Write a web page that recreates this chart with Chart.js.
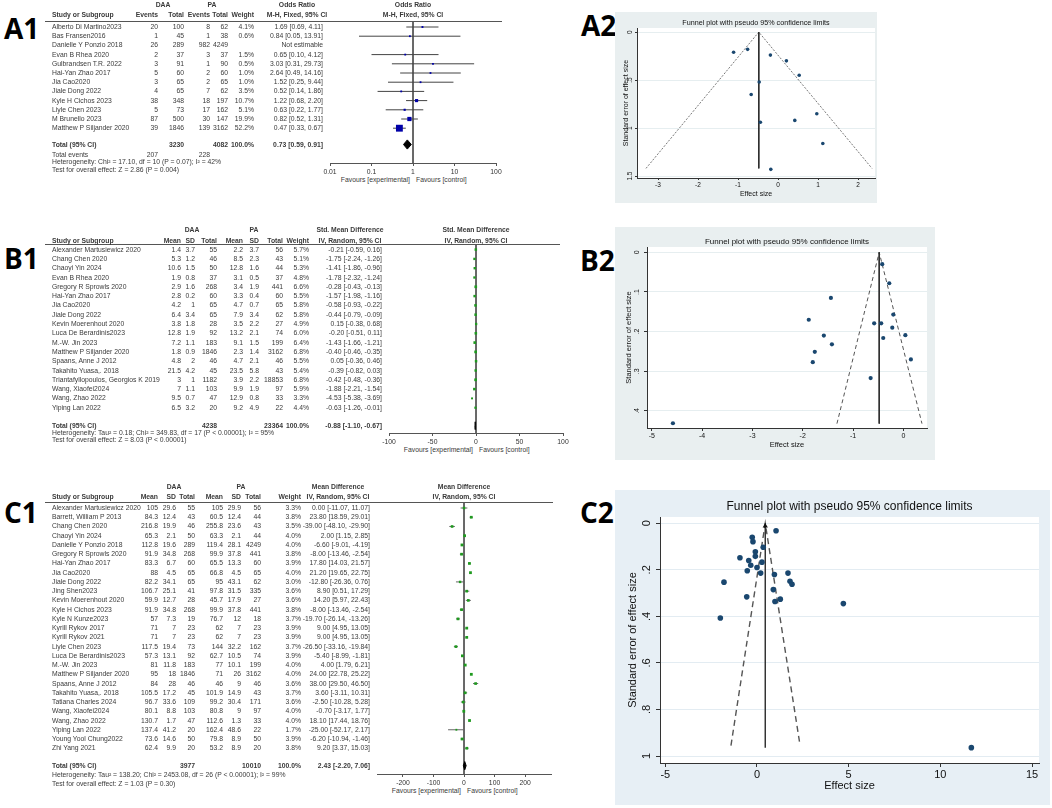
<!DOCTYPE html>
<html><head><meta charset="utf-8"><title>Forest and funnel plots</title>
<script src="https://cdn.jsdelivr.net/npm/chart.js@4.4.1/dist/chart.umd.min.js"></script>
<style>
html,body{margin:0;padding:0;background:#fff;}
#root{position:relative;width:1052px;height:808px;overflow:hidden;font-family:"Liberation Sans",Arial,Helvetica,sans-serif;}
.t{position:absolute;white-space:nowrap;font-size:6.8px;color:#3a3a3a;line-height:1;}
.b{font-weight:bold;}
.lab{font-family:"Open Sans","Liberation Sans",sans-serif;font-weight:700;font-size:28px;color:#000;}
.rule{position:absolute;height:1px;background:#555;}
canvas{position:absolute;}
</style></head>
<body><div id="root"></div>
<script>
/* ================= DATA ================= */
/* ---- A1: Odds ratio, M-H fixed ---- */
const studiesA1 = ["Alberto Di Martino2023","Bas Fransen2016","Danielle Y Ponzio 2018","Evan B Rhea 2020","Gulbrandsen T.R. 2022","Hai-Yan Zhao 2017","Jia Cao2020","Jiale Dong 2022","Kyle H Cichos 2023","Liyle Chen 2023","M Brunello 2023","Matthew P Siljander 2020"];
const daaEventsA1 = [20,1,26,2,3,5,3,4,38,5,87,39];
const daaTotalA1  = [100,45,289,37,91,60,65,65,348,73,500,1846];
const paEventsA1  = [8,1,982,3,1,2,2,7,18,17,30,139];
const paTotalA1   = [62,38,4249,37,90,60,65,62,197,162,147,3162];
const weightA1    = [4.1,0.6,null,1.5,0.5,1.0,1.0,3.5,10.7,5.1,19.9,52.2];
const orA1   = [1.69,0.84,null,0.65,3.03,2.64,1.52,0.52,1.22,0.63,0.82,0.47];
const orLoA1 = [0.69,0.05,null,0.10,0.31,0.49,0.25,0.14,0.68,0.22,0.52,0.33];
const orHiA1 = [4.11,13.91,null,4.12,29.73,14.16,9.44,1.86,2.20,1.77,1.31,0.67];
const totalsA1 = [3230,4082];          // DAA total, PA total
const totalEventsA1 = [207,228];
const pooledA1 = [0.73,0.59,0.91];     // estimate, lower, upper
const ticksA1 = [0.01,0.1,1,10,100];
const tickLabelsA1 = ["0.01","0.1","1","10","100"];
const hetA1 = "Heterogeneity: Chi² = 17.10, df = 10 (P = 0.07); I² = 42%";
const testA1 = "Test for overall effect: Z = 2.86 (P = 0.004)";

/* ---- B1: Std. mean difference, IV random ---- */
const studiesB1 = ["Alexander Martusiewicz 2020","Chang Chen 2020","Chaoyi Yin 2024","Evan B Rhea 2020","Gregory R Sprowls 2020","Hai-Yan Zhao 2017","Jia Cao2020","Jiale Dong 2022","Kevin Moerenhout 2020","Luca De Berardinis2023","M.-W. Jin 2023","Matthew P Siljander 2020","Spaans, Anne J 2012","Takahito Yuasa,. 2018","Triantafyllopoulos, Georgios K 2019","Wang, Xiaofei2024","Wang, Zhao 2022","Yiping Lan 2022"];
const daaMeanB1 = [1.4,5.3,10.6,1.9,2.9,2.8,4.2,6.4,3.8,12.8,7.2,1.8,4.8,21.5,3,7,9.5,6.5];
const daaSdB1   = [3.7,1.2,1.5,0.8,1.6,0.2,1,3.4,1.8,1.9,1.1,0.9,2,4.2,1,1.1,0.7,3.2];
const daaNB1    = [55,46,50,37,268,60,65,65,28,92,183,1846,46,45,1182,103,47,20];
const paMeanB1  = [2.2,8.5,12.8,3.1,3.4,3.3,4.7,7.9,3.5,13.2,9.1,2.3,4.7,23.5,3.9,9.9,12.9,9.2];
const paSdB1    = [3.7,2.3,1.6,0.5,1.9,0.4,0.7,3.4,2.2,2.1,1.5,1.4,2.1,5.8,2.2,1.9,0.8,4.9];
const paNB1     = [56,43,44,37,441,60,65,62,27,74,199,3162,46,43,18853,97,33,22];
const weightB1  = [5.7,5.1,5.3,4.8,6.6,5.5,5.8,5.8,4.9,6.0,6.4,6.8,5.5,5.4,6.8,5.9,3.3,4.4];
const smdB1   = [-0.21,-1.75,-1.41,-1.78,-0.28,-1.57,-0.58,-0.44,0.15,-0.20,-1.43,-0.40,0.05,-0.39,-0.42,-1.88,-4.53,-0.63];
const smdLoB1 = [-0.59,-2.24,-1.86,-2.32,-0.43,-1.98,-0.93,-0.79,-0.38,-0.51,-1.66,-0.46,-0.36,-0.82,-0.48,-2.21,-5.38,-1.26];
const smdHiB1 = [0.16,-1.26,-0.96,-1.24,-0.13,-1.16,-0.22,-0.09,0.68,0.11,-1.21,-0.35,0.46,0.03,-0.36,-1.54,-3.69,-0.01];
const totalsB1 = [4238,23364];
const pooledB1 = [-0.88,-1.10,-0.67];
const ticksB1 = [-100,-50,0,50,100];
const tickLabelsB1 = ["-100","-50","0","50","100"];
const hetB1 = "Heterogeneity: Tau² = 0.18; Chi² = 349.83, df = 17 (P < 0.00001); I² = 95%";
const testB1 = "Test for overall effect: Z = 8.03 (P < 0.00001)";

/* ---- C1: Mean difference, IV random ---- */
const studiesC1 = ["Alexander Martusiewicz 2020","Barrett, William P 2013","Chang Chen 2020","Chaoyi Yin 2024","Danielle Y Ponzio 2018","Gregory R Sprowls 2020","Hai-Yan Zhao 2017","Jia Cao2020","Jiale Dong 2022","Jing Shen2023","Kevin Moerenhout 2020","Kyle H Cichos 2023","Kyle N Kunze2023","Kyrill Rykov 2017","Kyrill Rykov 2021","Liyle Chen 2023","Luca De Berardinis2023","M.-W. Jin 2023","Matthew P Siljander 2020","Spaans, Anne J 2012","Takahito Yuasa,. 2018","Tatiana Charles 2024","Wang, Xiaofei2024","Wang, Zhao 2022","Yiping Lan 2022","Young Yool Chung2022","Zhi Yang 2021"];
const daaMeanC1 = [105,84.3,216.8,65.3,112.8,91.9,83.3,88,82.2,106.7,59.9,91.9,57,71,71,117.5,57.3,81,95,84,105.5,96.7,80.1,130.7,137.4,73.6,62.4];
const daaSdC1   = [29.6,12.4,19.9,2.1,19.6,34.8,6.7,4.5,34.1,25.1,12.7,34.8,7.3,7,7,19.4,13.1,11.8,18,28,17.2,33.6,8.8,1.7,41.2,14.6,9.9];
const daaNC1    = [55,43,46,50,289,268,60,65,65,41,28,268,19,23,23,73,92,183,1846,46,45,109,103,47,20,50,20];
const paMeanC1  = [105,60.5,255.8,63.3,119.4,99.9,65.5,66.8,95,97.8,45.7,99.9,76.7,62,62,144,62.7,77,71,46,101.9,99.2,80.8,112.6,162.4,79.8,53.2];
const paSdC1    = [29.9,12.4,23.6,2.1,28.1,37.8,13.3,4.5,43.1,31.5,17.9,37.8,12,7,7,32.2,10.5,10.1,26,9,14.9,30.4,9,1.3,48.6,8.9,8.9];
const paNC1     = [56,44,43,44,4249,441,60,65,62,335,27,441,18,23,23,162,74,199,3162,46,43,171,97,33,22,50,20];
const weightC1  = [3.3,3.8,3.5,4.0,4.0,3.8,3.9,4.0,3.0,3.6,3.6,3.8,3.7,3.9,3.9,3.7,3.9,4.0,4.0,3.6,3.7,3.6,4.0,4.0,1.7,3.9,3.8];
const mdC1   = [0.00,23.80,-39.00,2.00,-6.60,-8.00,17.80,21.20,-12.80,8.90,14.20,-8.00,-19.70,9.00,9.00,-26.50,-5.40,4.00,24.00,38.00,3.60,-2.50,-0.70,18.10,-25.00,-6.20,9.20];
const mdLoC1 = [-11.07,18.59,-48.10,1.15,-9.01,-13.46,14.03,19.65,-26.36,0.51,5.97,-13.46,-26.14,4.95,4.95,-33.16,-8.99,1.79,22.78,29.50,-3.11,-10.28,-3.17,17.44,-52.17,-10.94,3.37];
const mdHiC1 = [11.07,29.01,-29.90,2.85,-4.19,-2.54,21.57,22.75,0.76,17.29,22.43,-2.54,-13.26,13.05,13.05,-19.84,-1.81,6.21,25.22,46.50,10.31,5.28,1.77,18.76,2.17,-1.46,15.03];
const totalsC1 = [3977,10010];
const pooledC1 = [2.43,-2.20,7.06];
const ticksC1 = [-200,-100,0,100,200];
const tickLabelsC1 = ["-200","-100","0","100","200"];
const hetC1 = "Heterogeneity: Tau² = 138.20; Chi² = 2453.08, df = 26 (P < 0.00001); I² = 99%";
const testC1 = "Test for overall effect: Z = 1.03 (P = 0.30)";

/* ---- Funnel plots: effect size vs standard error ---- */
const effectA2 = [-1.11,-0.76,-0.19,0.21,0.53,-0.47,-0.67,0.97,0.42,-0.44,1.12,-0.18];
const seA2     = [0.21,0.18,0.24,0.30,0.45,0.52,0.65,0.85,0.92,0.94,1.16,1.43];
const funnelA2 = {center:-0.48, seMax:1.42, lo:-3.30, hi:2.35, lineEnd:1.42};
const xTicksA2 = [-3,-2,-1,0,1,2];
const yTicksA2 = [0,0.5,1,1.5];

const effectB2 = [-0.42,-0.28,-1.44,-0.20,-1.88,-0.58,-0.44,-0.22,-1.58,0.04,-0.40,-1.42,-1.76,0.15,-1.80,-0.65,-4.58];
const seB2     = [0.030,0.078,0.115,0.157,0.170,0.179,0.179,0.190,0.210,0.209,0.216,0.232,0.251,0.270,0.277,0.317,0.431];
const funnelB2 = {center:-0.48, seMax:0.432, lo:-1.32, hi:0.37, lineEnd:0.432};
const xTicksB2 = [-5,-4,-3,-2,-1,0];
const yTicksB2 = [0,0.1,0.2,0.3,0.4];

const effectC2 = [1.04,-0.26,-0.22,0.34,-0.09,-0.09,-0.93,-0.45,0.27,-0.34,0.00,-0.53,0.20,1.69,0.95,-1.80,1.80,1.91,0.89,-0.56,1.27,0.98,4.71,-2.00,11.69];
const seC2     = [0.032,0.060,0.079,0.103,0.122,0.142,0.148,0.160,0.167,0.180,0.190,0.204,0.214,0.214,0.220,0.253,0.249,0.262,0.285,0.316,0.326,0.336,0.345,0.407,0.964];
const funnelC2 = {center:0.45, seMax:0.955, lo:-1.42, hi:2.35, lineEnd:0.965};
const xTicksC2 = [-5,0,5,10,15];
const yTicksC2 = [0,0.2,0.4,0.6,0.8,1];

/* ================= LAYOUT ================= */
const LA1 = {ruleY:21, ruleX1:502, row0:27, step:9.2, totalY:144.5, evY:155, hetY:162.3, testY:169.5, h1:4.5, h2:15,
  cols:[158,184,210,228], w:254, ci:323, ciC:297, daaC:163, paC:212, ax0:330, ax1:496, axisY:163, favY:180};
const LB1 = {ruleY:244, ruleX1:560, row0:249.6, step:9.3, totalY:425.7, hetY:433, testY:440, h1:230, h2:240.7,
  cols:[181,195,217,243,259,283], w:309, ci:382, ciC:350, daaC:192, paC:254, ax0:389, ax1:563, axisY:433, favY:450};
const LC1 = {ruleY:502, ruleX1:553, row0:508, step:9.24, totalY:765.7, hetY:774.7, testY:784, h1:487.3, h2:497.3,
  cols:[158,176,195,223,241,261], w:301, ci:370, ciC:338, daaC:174, paC:241, ax0:377, ax1:551, axisY:774, favY:791};

/* ================= HELPERS ================= */
const root = document.getElementById('root');
Chart.defaults.font.family = '"Liberation Sans", Arial, Helvetica, sans-serif';
Chart.defaults.color = '#333';

function T(x, y, s, al, bold, cls) {
  const d = document.createElement('div');
  d.className = 't' + (bold ? ' b' : '') + (cls ? ' ' + cls : '');
  d.textContent = s;
  d.style.left = x + 'px';
  d.style.top = y + 'px';
  d.style.transform = 'translate(' + (al === 'r' ? '-100%' : al === 'c' ? '-50%' : '0') + ',-50%)';
  root.appendChild(d);
  return d;
}
function rule(x0, x1, y) {
  const d = document.createElement('div');
  d.className = 'rule';
  d.style.left = x0 + 'px'; d.style.top = (y - 0.5) + 'px'; d.style.width = (x1 - x0) + 'px';
  root.appendChild(d);
}
const pct = w => w == null ? '' : w.toFixed(1) + '%';
const ciTxt = (e, l, h) => e == null ? 'Not estimable' : e.toFixed(2) + ' [' + l.toFixed(2) + ', ' + h.toFixed(2) + ']';

function forestChart(o) {
  const L = o.L, pad = 20, axH = 12;
  const yMin = (L.ruleY - L.row0) / L.step, yMax = (L.axisY - L.row0) / L.step;
  const yTot = (L.totalY - L.row0) / L.step;
  const cv = document.createElement('canvas');
  cv.width = L.ax1 - L.ax0 + 2 * pad;
  cv.height = L.axisY - L.ruleY + axH;
  cv.style.left = (L.ax0 - pad) + 'px';
  cv.style.top = L.ruleY + 'px';
  root.appendChild(cv);
  const sq = [], rad = [], ds = [];
  o.est.forEach((e, i) => {
    if (e == null) return;
    sq.push({x: e, y: i});
    rad.push(Math.max(o.minSide, o.k * Math.sqrt(o.wt[i])) / Math.SQRT2);
  });
  ds.push({data: sq, pointStyle: 'rect', pointRadius: rad, backgroundColor: o.sqColor, borderWidth: 0});
  const t = o.tot;
  ds.push({data: [{x: t[1], y: yTot}, {x: t[0], y: yTot - o.dh}, {x: t[2], y: yTot}, {x: t[0], y: yTot + o.dh}, {x: t[1], y: yTot}],
    showLine: true, fill: 'shape', backgroundColor: '#000', borderColor: '#000', borderWidth: 1, pointRadius: 0});
  o.est.forEach((e, i) => {
    if (e == null) return;
    ds.push({data: [{x: o.lo[i], y: i}, {x: o.hi[i], y: i}], showLine: true, borderColor: o.ciColor, borderWidth: 1, pointRadius: 0});
  });
  ds.push({data: [{x: o.nullV, y: yMin}, {x: o.nullV, y: yMax}], showLine: true, borderColor: '#555', borderWidth: 1, pointRadius: 0});
  const chart = new Chart(cv, {
    type: 'scatter',
    data: {datasets: ds},
    options: {
      responsive: false, animation: false, events: [],
      layout: {padding: {left: pad, right: pad, top: 0, bottom: 0}, autoPadding: false},
      plugins: {legend: {display: false}, tooltip: {enabled: false}},
      scales: {
        x: {type: o.xType, min: o.xMin, max: o.xMax,
          afterBuildTicks: s => { s.ticks = o.ticks.map(v => ({value: v})); },
          afterFit: s => { s.height = axH; },
          ticks: {font: {size: 6.8}, color: '#333', padding: 2, maxRotation: 0, minRotation: 0, autoSkip: false,
                  callback: (v, i) => o.tickLabels[i]},
          grid: {drawOnChartArea: false, drawTicks: true, tickLength: 3, color: '#555'},
          border: {display: true, color: '#555', width: 1}},
        y: {type: 'linear', display: false, reverse: true, min: yMin, max: yMax}
      }
    }
  });
  const nullPx = chart.scales.x.getPixelForValue(o.nullV) + (L.ax0 - pad);
  T(nullPx - 3, L.favY, 'Favours [experimental]', 'r');
  T(nullPx + 3, L.favY, 'Favours [control]', 'l');
  return nullPx;
}

const bgPlugin = {
  id: 'panelBg',
  beforeDraw(c, args, opts) {
    const {ctx, chartArea: a} = c;
    ctx.save();
    ctx.fillStyle = opts.outer; ctx.fillRect(0, 0, c.width, c.height);
    ctx.fillStyle = opts.inner; ctx.fillRect(a.left, a.top, a.right - a.left, a.bottom - a.top);
    ctx.restore();
  }
};
const fmt = v => {
  if (v === 0) return '0';
  const a = Math.abs(v);
  let s = String(a);
  if (a < 1) s = s.replace(/^0/, '');
  return (v < 0 ? '-' : '') + s;
};

function funnelChart(o) {
  const L = o.L;
  const cv = document.createElement('canvas');
  cv.width = L.w; cv.height = L.h;
  cv.style.left = L.left + 'px'; cv.style.top = L.top + 'px';
  root.appendChild(cv);
  const f = o.f;
  const ds = [
    {data: o.es.map((x, i) => ({x: x, y: o.se[i]})), pointStyle: 'circle', pointRadius: L.r, backgroundColor: '#1a476f', borderWidth: 0}
  ];
  if (L.arrow) ds.push({data: [{x: f.center, y: L.arrowY}], pointStyle: 'triangle', pointRadius: L.arrow, backgroundColor: '#111', borderWidth: 0});
  ds.push({data: [{x: f.center, y: 0}, {x: f.center, y: f.lineEnd}], showLine: true, borderColor: '#2a2a2a', borderWidth: L.vw, pointRadius: 0});
  ds.push({data: [{x: f.lo, y: f.seMax}, {x: f.center, y: 0}, {x: f.hi, y: f.seMax}], showLine: true, borderColor: '#555', borderWidth: L.fw, borderDash: L.dash, pointRadius: 0});
  new Chart(cv, {
    type: 'scatter',
    data: {datasets: ds},
    plugins: [bgPlugin],
    options: {
      responsive: false, animation: false, events: [],
      layout: {padding: {left: 0, right: L.padR, top: 0, bottom: 0}, autoPadding: false},
      plugins: {
        legend: {display: false}, tooltip: {enabled: false},
        title: {display: true, fullSize: false, text: 'Funnel plot with pseudo 95% confidence limits', color: '#111',
                font: {size: L.ts, weight: 'normal'}, padding: {top: L.tpt, bottom: L.tpb}},
        panelBg: {outer: L.bg, inner: '#ffffff'}
      },
      scales: {
        x: {type: 'linear', min: o.xMin, max: o.xMax,
          afterBuildTicks: s => { s.ticks = o.xt.map(v => ({value: v})); },
          afterFit: s => { s.height = L.xH; },
          ticks: {font: {size: L.fs}, color: '#111', padding: L.xtp, maxRotation: 0, minRotation: 0, autoSkip: false, callback: v => fmt(v)},
          grid: {drawOnChartArea: false, tickLength: L.tl, color: '#333'},
          border: {color: '#333', width: 1},
          title: {display: true, text: 'Effect size', color: '#111', font: {size: L.as}, padding: {top: 0, bottom: L.xttp}}},
        y: {type: 'linear', reverse: true, min: o.yMin, max: o.yMax,
          afterBuildTicks: s => { s.ticks = o.yt.map(v => ({value: v})); },
          afterFit: s => { s.width = L.yW; },
          ticks: {font: {size: L.fs}, color: '#111', padding: L.ytp, minRotation: 90, maxRotation: 90, crossAlign: 'center', autoSkip: false, callback: v => fmt(v)},
          grid: {drawOnChartArea: true, color: L.gridC, tickColor: '#333', tickLength: L.tl},
          border: {color: '#333', width: 1},
          title: {display: true, text: 'Standard error of effect size', color: '#111', font: {size: L.as}, padding: {top: L.yttp, bottom: 0}}}
      }
    }
  });
}

/* ================= PANEL LABELS ================= */
T(4, 28, 'A1', 'l', false, 'lab');
T(4, 258, 'B1', 'l', false, 'lab');
T(4, 512, 'C1', 'l', false, 'lab');
T(581, 25, 'A2', 'l', false, 'lab');
T(580, 260, 'B2', 'l', false, 'lab');
T(580, 512, 'C2', 'l', false, 'lab');

/* ================= A1 ================= */
(function () {
  const L = LA1, c = L.cols;
  const nullX = forestChart({L: L, xType: 'logarithmic', xMin: 0.01, xMax: 100, ticks: ticksA1, tickLabels: tickLabelsA1,
    est: orA1, lo: orLoA1, hi: orHiA1, wt: weightA1, tot: pooledA1, nullV: 1, sqColor: '#0000a8', ciColor: '#444',
    k: 0.95, minSide: 1.8, dh: 0.5});
  rule(45, L.ruleX1, L.ruleY);
  T(L.daaC, L.h1, 'DAA', 'c', true); T(L.paC, L.h1, 'PA', 'c', true);
  T(L.ciC, L.h1, 'Odds Ratio', 'c', true); T(nullX, L.h1, 'Odds Ratio', 'c', true);
  T(52, L.h2, 'Study or Subgroup', 'l', true);
  ['Events', 'Total', 'Events', 'Total'].forEach((h, j) => T(c[j], L.h2, h, 'r', true));
  T(L.w, L.h2, 'Weight', 'r', true);
  T(L.ciC, L.h2, 'M-H, Fixed, 95% CI', 'c', true); T(nullX, L.h2, 'M-H, Fixed, 95% CI', 'c', true);
  studiesA1.forEach((s, i) => {
    const y = L.row0 + i * L.step;
    T(52, y, s, 'l');
    T(c[0], y, String(daaEventsA1[i]), 'r'); T(c[1], y, String(daaTotalA1[i]), 'r');
    T(c[2], y, String(paEventsA1[i]), 'r'); T(c[3], y, String(paTotalA1[i]), 'r');
    T(L.w, y, pct(weightA1[i]), 'r');
    T(L.ci, y, ciTxt(orA1[i], orLoA1[i], orHiA1[i]), 'r');
  });
  T(52, L.totalY, 'Total (95% CI)', 'l', true);
  T(c[1], L.totalY, String(totalsA1[0]), 'r', true); T(c[3], L.totalY, String(totalsA1[1]), 'r', true);
  T(L.w, L.totalY, '100.0%', 'r', true);
  T(L.ci, L.totalY, ciTxt(pooledA1[0], pooledA1[1], pooledA1[2]), 'r', true);
  T(52, L.evY, 'Total events', 'l');
  T(c[0], L.evY, String(totalEventsA1[0]), 'r'); T(c[2], L.evY, String(totalEventsA1[1]), 'r');
  T(52, L.hetY, hetA1, 'l'); T(52, L.testY, testA1, 'l');
})();

/* ================= B1 ================= */
(function () {
  const L = LB1, c = L.cols;
  const nullX = forestChart({L: L, xType: 'linear', xMin: -100, xMax: 100, ticks: ticksB1, tickLabels: tickLabelsB1,
    est: smdB1, lo: smdLoB1, hi: smdHiB1, wt: weightB1, tot: pooledB1, nullV: 0, sqColor: '#1f9a1f', ciColor: '#666',
    k: 1.05, minSide: 1.5, dh: 0.42});
  rule(45, L.ruleX1, L.ruleY);
  T(L.daaC, L.h1, 'DAA', 'c', true); T(L.paC, L.h1, 'PA', 'c', true);
  T(L.ciC, L.h1, 'Std. Mean Difference', 'c', true); T(nullX, L.h1, 'Std. Mean Difference', 'c', true);
  T(52, L.h2, 'Study or Subgroup', 'l', true);
  ['Mean', 'SD', 'Total', 'Mean', 'SD', 'Total'].forEach((h, j) => T(c[j], L.h2, h, 'r', true));
  T(L.w, L.h2, 'Weight', 'r', true);
  T(L.ciC, L.h2, 'IV, Random, 95% CI', 'c', true); T(nullX, L.h2, 'IV, Random, 95% CI', 'c', true);
  studiesB1.forEach((s, i) => {
    const y = L.row0 + i * L.step;
    T(52, y, s, 'l');
    [daaMeanB1, daaSdB1, daaNB1, paMeanB1, paSdB1, paNB1].forEach((arr, j) => T(c[j], y, String(arr[i]), 'r'));
    T(L.w, y, pct(weightB1[i]), 'r');
    T(L.ci, y, ciTxt(smdB1[i], smdLoB1[i], smdHiB1[i]), 'r');
  });
  T(52, L.totalY, 'Total (95% CI)', 'l', true);
  T(c[2], L.totalY, String(totalsB1[0]), 'r', true); T(c[5], L.totalY, String(totalsB1[1]), 'r', true);
  T(L.w, L.totalY, '100.0%', 'r', true);
  T(L.ci, L.totalY, ciTxt(pooledB1[0], pooledB1[1], pooledB1[2]), 'r', true);
  T(52, L.hetY, hetB1, 'l'); T(52, L.testY, testB1, 'l');
})();

/* ================= C1 ================= */
(function () {
  const L = LC1, c = L.cols;
  const nullX = forestChart({L: L, xType: 'linear', xMin: -285, xMax: 285, ticks: ticksC1, tickLabels: tickLabelsC1,
    est: mdC1, lo: mdLoC1, hi: mdHiC1, wt: weightC1, tot: pooledC1, nullV: 0, sqColor: '#1f9a1f', ciColor: '#666',
    k: 1.4, minSide: 1.5, dh: 0.45});
  rule(45, L.ruleX1, L.ruleY);
  T(L.daaC, L.h1, 'DAA', 'c', true); T(L.paC, L.h1, 'PA', 'c', true);
  T(L.ciC, L.h1, 'Mean Difference', 'c', true); T(nullX, L.h1, 'Mean Difference', 'c', true);
  T(52, L.h2, 'Study or Subgroup', 'l', true);
  ['Mean', 'SD', 'Total', 'Mean', 'SD', 'Total'].forEach((h, j) => T(c[j], L.h2, h, 'r', true));
  T(L.w, L.h2, 'Weight', 'r', true);
  T(L.ciC, L.h2, 'IV, Random, 95% CI', 'c', true); T(nullX, L.h2, 'IV, Random, 95% CI', 'c', true);
  studiesC1.forEach((s, i) => {
    const y = L.row0 + i * L.step;
    T(52, y, s, 'l');
    [daaMeanC1, daaSdC1, daaNC1, paMeanC1, paSdC1, paNC1].forEach((arr, j) => T(c[j], y, String(arr[i]), 'r'));
    T(L.w, y, pct(weightC1[i]), 'r');
    T(L.ci, y, ciTxt(mdC1[i], mdLoC1[i], mdHiC1[i]), 'r');
  });
  T(52, L.totalY, 'Total (95% CI)', 'l', true);
  T(c[2], L.totalY, String(totalsC1[0]), 'r', true); T(c[5], L.totalY, String(totalsC1[1]), 'r', true);
  T(L.w, L.totalY, '100.0%', 'r', true);
  T(L.ci, L.totalY, ciTxt(pooledC1[0], pooledC1[1], pooledC1[2]), 'r', true);
  T(52, L.hetY, hetC1, 'l'); T(52, L.testY, testC1, 'l');
})();

/* ================= FUNNELS ================= */
funnelChart({
  L: {left: 615, top: 12, w: 262, h: 191, padR: 2, yW: 22, xH: 25, ts: 7.2, tpt: 7, tpb: 0.4, fs: 6.5, tl: 2, xtp: 1.1,
      as: 7, xttp: 4.8, yttp: 6.8, ytp: 0, r: 1.8, vw: 1, fw: 0.8, dash: [2, 1.5], bg: '#e9eff0', gridC: '#e6eef0'},
  es: effectA2, se: seA2, f: funnelA2, xMin: -3.525, xMax: 2.425, yMin: -0.042, yMax: 1.52, xt: xTicksA2, yt: yTicksA2
});
funnelChart({
  L: {left: 615, top: 227, w: 320, h: 233, padR: 8, yW: 32, xH: 32, ts: 8, tpt: 10.2, tpb: 0.2, fs: 7, tl: 3, xtp: 0.8,
      as: 7.5, xttp: 10.5, yttp: 9.8, ytp: 4.4, r: 2.1, vw: 1, fw: 1, dash: [4, 3], bg: '#e9eff0', gridC: '#e6eef0'},
  es: effectB2, se: seB2, f: funnelB2, xMin: -5.095, xMax: 0.47, yMin: -0.0134, yMax: 0.443, xt: xTicksB2, yt: yTicksB2
});
funnelChart({
  L: {left: 615, top: 490, w: 435, h: 315, padR: 11, yW: 45, xH: 42, ts: 12, tpt: 9.8, tpb: 2.8, fs: 11, tl: 4, xtp: 1.4,
      as: 11, xttp: 12.7, yttp: 11.4, ytp: 4.7, r: 2.8, vw: 1.4, fw: 1.4, dash: [6, 4], bg: '#e7eff5', gridC: '#e3ecf2',
      arrow: 3, arrowY: 0.012},
  es: effectC2, se: seC2, f: funnelC2, xMin: -5.29, xMax: 15.38, yMin: -0.027, yMax: 1.03, xt: xTicksC2, yt: yTicksC2
});
</script>
</body></html>
